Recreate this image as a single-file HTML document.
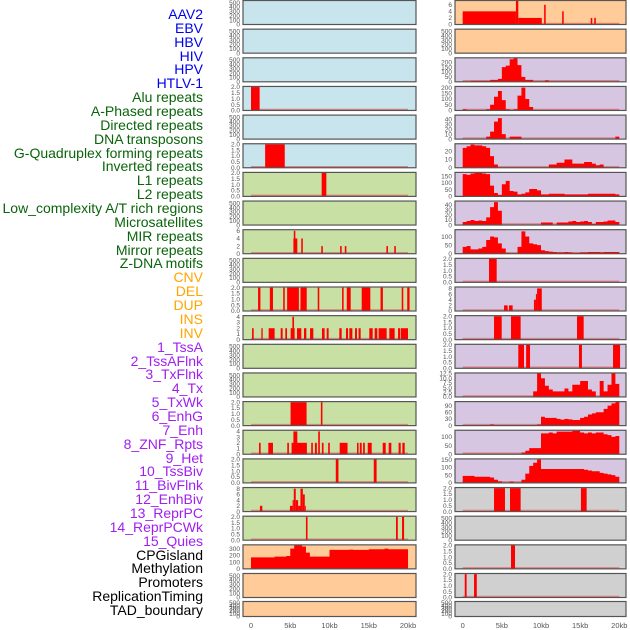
<!DOCTYPE html>
<html><head><meta charset="utf-8">
<style>
html,body{margin:0;padding:0;background:#fff;}
#wrap{position:relative;width:630px;height:630px;overflow:hidden;}
#labels{position:absolute;left:0;top:0;width:203px;}
.lab{position:absolute;right:0;font-family:"Liberation Sans",sans-serif;font-size:14px;line-height:14px;white-space:nowrap;}
svg{position:absolute;left:0;top:0;}
</style></head>
<body>
<div id="wrap">
<div id="labels"></div>
<svg id="chart" width="630" height="630"></svg>
</div>
<script>
const trackNames = ["AAV2","EBV","HBV","HIV","HPV","HTLV-1","Alu repeats","A-Phased repeats","Directed repeats","DNA transposons","G-Quadruplex forming repeats","Inverted repeats","L1 repeats","L2 repeats","Low_complexity A/T rich regions","Microsatellites","MIR repeats","Mirror repeats","Z-DNA motifs","CNV","DEL","DUP","INS","INV","1_TssA","2_TssAFlnk","3_TxFlnk","4_Tx","5_TxWk","6_EnhG","7_Enh","8_ZNF_Rpts","9_Het","10_TssBiv","11_BivFlnk","12_EnhBiv","13_ReprPC","14_ReprPCWk","15_Quies","CPGisland","Methylation","Promoters","ReplicationTiming","TAD_boundary"];
const trackGroups = ["v","v","v","v","v","v","r","r","r","r","r","r","r","r","r","r","r","r","r","c","c","c","c","c","h","h","h","h","h","h","h","h","h","h","h","h","h","h","h","o","o","o","o","o"];
const xTickValues = [0,5,10,15,20];
const xTickLabels = ["0","5kb","10kb","15kb","20kb"];

// bar tracks: [startKb, endKb, height]
const barsL3 = [[0,1.1,2]];
const barsL5 = [[1.8,4.3,2]];
const barsL6 = [[9.0,9.6,2]];
const barsL8 = [[5.4,5.9,4],[5.45,5.65,6],[6.4,6.6,4],[8.95,9.15,2],[11.35,11.55,2],[11.95,12.15,2],[17.25,17.45,2],[18.25,18.45,2]];
const barsL10 = [[0.9,1.2,2],[2.4,2.8,2],[4.1,4.3,2],[4.6,6.1,2],[6.3,7.1,2],[8.5,8.7,2],[11.6,11.8,2],[12.2,12.7,2],[14.1,15.2,2],[16.5,16.8,2],[19.2,19.4,2],[19.9,20.2,2]];
const barsL11 = [[0.13,0.34,2],[1.32,1.49,2],[2.25,3.01,2],[3.78,4.03,2],[4.37,4.59,2],[5.05,5.56,2],[5.27,5.48,4],[5.86,6.41,2],[6.75,7.05,2],[7.52,7.94,2],[9.04,9.38,2],[9.64,9.89,2],[11.25,11.55,2],[12.1,12.36,2],[12.53,12.91,2],[13.25,13.5,2],[13.7,13.97,2],[15.07,15.5,2],[15.75,16.09,2],[16.26,17.28,2],[17.62,18.3,2],[18.73,18.98,2],[19.07,20.0,2]];
const barsL14 = [[5.04,7.08,2],[8.9,9.1,2]];
const barsL15 = [[1.02,1.23,2],[2.2,2.8,2],[4.62,4.83,2],[5.17,7.12,2],[5.4,5.9,4],[8.56,8.77,4],[7.67,7.88,2],[8.14,8.39,2],[9.03,9.24,2],[9.83,10.04,2],[11.3,12.3,2],[13.5,13.7,2],[13.86,14.1,2],[14.28,14.5,2],[14.87,15.38,2],[16.78,17.16,2],[17.54,17.88,2],[18.8,19.07,2],[19.28,19.58,2]];
const barsL16 = [[10.8,11.14,2],[15.64,16.0,2]];
const barsL17 = [[1.14,1.44,2],[4.96,5.3,2],[5.3,5.45,4],[5.45,5.7,8],[5.7,6.0,4],[6.0,6.3,2],[6.3,6.6,8],[6.6,6.85,6],[6.85,6.95,2]];
const barsL18 = [[7.0,7.2,2],[18.47,18.7,2],[19.24,19.5,2]];
const barsR0 = [[0,6.8,4],[6.8,7.1,8],[7.1,10.1,2],[10.4,10.6,6],[12.7,12.9,4],[16.35,16.55,2],[16.8,17.0,2]];
const barsR9 = [[3.36,4.34,2]];
const barsR10 = [[5.28,5.74,2],[5.91,6.38,2],[9.1,9.35,4],[9.35,9.5,6],[9.5,10.1,8]];
const barsR11 = [[4.0,4.98,2],[6.17,7.4,2],[14.6,15.45,2]];
const barsR12 = [[7.1,7.83,2],[8.1,8.6,2],[14.85,15.23,2],[19.2,20.1,2]];
const barsR17 = [[4.0,5.4,2],[6.04,7.4,2],[15.1,15.83,2]];
const barsR19 = [[6.17,6.68,2]];
const barsR20 = [[0.26,0.5,2],[1.45,1.8,2]];

// profile tracks: 40 bins of 0.5kb
const profL19 = [170,170,170,170,170,170,180,180,180,190,300,350,350,330,240,180,180,180,180,180,280,280,280,280,280,285,280,280,280,280,290,290,290,290,300,290,290,290,290,290];
const profR2 = [0,0,10,10,10,10,10,20,20,30,150,165,230,240,170,50,20,20,0,0,0,15,0,0,0,0,0,0,0,0,0,0,0,0,0,0,0,0,0,0];
const profR3 = [10,0,0,0,0,0,10,50,120,170,90,10,0,10,130,200,100,30,0,0,0,0,0,0,0,0,0,0,0,0,0,0,0,0,0,0,0,0,0,0];
const profR4 = [0,0,0,0,0,0,5,15,35,42,10,0,5,5,5,0,0,0,0,0,0,0,0,0,0,0,0,0,0,0,0,0,0,0,0,0,0,0,0,5];
const profR5 = [24,26,28,27,27,26,24,14,4,0,0,0,0,0,0,0,0,0,0,0,0,0,4,4,6,6,10,10,5,5,5,7,7,5,3,4,0,0,0,0];
const profR6 = [165,160,170,175,175,170,165,80,25,10,90,115,40,35,15,20,30,55,55,45,15,15,20,20,20,20,15,15,15,15,15,15,20,20,20,20,20,20,20,15];
const profR7 = [6,8,10,8,9,8,15,35,45,28,0,0,0,0,0,0,0,0,0,0,5,5,5,0,5,5,5,7,8,6,7,8,6,2,6,6,7,9,9,6];
const profR8 = [40,45,25,25,30,40,80,100,95,60,30,5,0,0,40,130,100,60,55,50,20,15,12,10,8,8,10,8,5,5,8,8,10,10,10,8,10,10,10,10];
const profR13 = [0,0,0,0,0,0,0,0,0,0,0,0,0,0,0,0,0,0,3,12.5,10,6,4,3,3,3,4.5,3,6.5,6.5,8.5,8.5,4,3,0,8.5,3,6.5,12.5,7];
const profR14 = [0,0,0,0,0,0,0,5,0,0,0,0,0,0,0,0,0,0,0,5,40,35,35,35,30,27,30,28,25,25,35,40,50,55,60,60,75,90,100,108];
const profR15 = [0,0,0,0,0,0,0,0,0,0,0,0,0,0,0,10,20,35,35,35,120,120,125,120,130,130,130,130,135,135,125,120,125,120,125,125,115,110,100,105];
const profR16 = [45,45,45,40,40,40,40,35,20,10,0,0,8,0,0,20,60,110,130,150,90,90,90,90,90,90,90,90,90,90,90,85,80,75,75,65,60,55,50,40];

const T500 = [0,100,200,300,400,500];
const T2 = [0,0.5,1,1.5,2];
const panels = [
 {c:0,r:0,bg:"b",ymax:550,ticks:T500},{c:0,r:1,bg:"b",ymax:550,ticks:T500},{c:0,r:2,bg:"b",ymax:550,ticks:T500},
 {c:0,r:3,bg:"b",ymax:2.05,ticks:T2,bars:barsL3},{c:0,r:4,bg:"b",ymax:550,ticks:T500},
 {c:0,r:5,bg:"b",ymax:2.05,ticks:T2,bars:barsL5},{c:0,r:6,bg:"g",ymax:2.05,ticks:T2,bars:barsL6},
 {c:0,r:7,bg:"g",ymax:550,ticks:T500},{c:0,r:8,bg:"g",ymax:6.3,ticks:[0,2,4,6],bars:barsL8},
 {c:0,r:9,bg:"g",ymax:550,ticks:T500},{c:0,r:10,bg:"g",ymax:2.05,ticks:T2,bars:barsL10},
 {c:0,r:11,bg:"g",ymax:4.2,ticks:[0,1,2,3,4],bars:barsL11},{c:0,r:12,bg:"g",ymax:550,ticks:T500},
 {c:0,r:13,bg:"g",ymax:550,ticks:T500},{c:0,r:14,bg:"g",ymax:2.05,ticks:T2,bars:barsL14},
 {c:0,r:15,bg:"g",ymax:4.2,ticks:[0,1,2,3,4],bars:barsL15},{c:0,r:16,bg:"g",ymax:2.05,ticks:T2,bars:barsL16},
 {c:0,r:17,bg:"g",ymax:8.4,ticks:[0,2,4,6,8],bars:barsL17},{c:0,r:18,bg:"g",ymax:2.05,ticks:T2,bars:barsL18},
 {c:0,r:19,bg:"o",ymax:355,ticks:[0,100,200,300],prof:profL19},{c:0,r:20,bg:"o",ymax:550,ticks:T500},
 {c:0,r:21,bg:"o",ymax:550,ticks:T500},
 {c:1,r:0,bg:"o",ymax:7.3,ticks:[0,2,4,6],bars:barsR0},{c:1,r:1,bg:"o",ymax:550,ticks:T500},
 {c:1,r:2,bg:"p",ymax:245,ticks:[0,50,100,150,200],prof:profR2},{c:1,r:3,bg:"p",ymax:210,ticks:[0,50,100,150,200],prof:profR3},
 {c:1,r:4,bg:"p",ymax:48,ticks:[0,10,20,30,40],prof:profR4},{c:1,r:5,bg:"p",ymax:29,ticks:[0,10,20],prof:profR5},
 {c:1,r:6,bg:"p",ymax:178,ticks:[0,50,100,150],prof:profR6},{c:1,r:7,bg:"p",ymax:47,ticks:[0,10,20,30,40],prof:profR7},
 {c:1,r:8,bg:"p",ymax:140,ticks:[0,50,100],prof:profR8},{c:1,r:9,bg:"p",ymax:2.05,ticks:T2,bars:barsR9},
 {c:1,r:10,bg:"p",ymax:8.5,ticks:[0,2,4,6,8],bars:barsR10},{c:1,r:11,bg:"p",ymax:2.05,ticks:T2,bars:barsR11},
 {c:1,r:12,bg:"p",ymax:2.05,ticks:T2,bars:barsR12},{c:1,r:13,bg:"p",ymax:12.8,ticks:[0,2.5,5,7.5,10,12.5],fmt:1,prof:profR13},
 {c:1,r:14,bg:"p",ymax:108,ticks:[0,30,60,90],prof:profR14},{c:1,r:15,bg:"p",ymax:138,ticks:[0,50,100],prof:profR15},
 {c:1,r:16,bg:"p",ymax:155,ticks:[0,50,100,150],prof:profR16},{c:1,r:17,bg:"y",ymax:2.05,ticks:T2,bars:barsR17},
 {c:1,r:18,bg:"y",ymax:550,ticks:T500},{c:1,r:19,bg:"y",ymax:2.05,ticks:T2,bars:barsR19},
 {c:1,r:20,bg:"y",ymax:2.05,ticks:T2,bars:barsR20},{c:1,r:21,bg:"y",ymax:550,ticks:T500}
];

const colorMap = {v:"#0000ee",r:"#0a640a",c:"#ffa500",h:"#a020f0",o:"#000"};
const bgMap = {b:"#c8e4ec",g:"#c8e0a3",o:"#ffcc99",p:"#d6c6e2",y:"#d0d0d0"};
const NS = "http://www.w3.org/2000/svg";
const svg = document.getElementById("chart");
const labDiv = document.getElementById("labels");

trackNames.forEach((n,i)=>{
  const d = document.createElement("div");
  d.className = "lab";
  d.style.top = (15 + 13.86*i - 8) + "px";
  d.style.color = colorMap[trackGroups[i]];
  d.textContent = n;
  
  
  labDiv.appendChild(d);
});

function mk(tag, attrs){
  const e = document.createElementNS(NS, tag);
  for (const k in attrs) e.setAttribute(k, attrs[k]);
  svg.appendChild(e);
  return e;
}
const colX = [{x0:243,x1:416,d0:251,d20:408,tx:240},{x0:455,x1:626,d0:462.7,d20:619.3,tx:452}];

panels.forEach((p,idx)=>{
  const C = colX[p.c];
  const top = p.r===21 ? 601.5 : 0.5 + 28.65*p.r;
  const h = p.r===21 ? 15 : 24;
  const bot = top + h;
  const xs = kb => C.d0 + (C.d20-C.d0)*kb/20;
  const ys = v => bot - Math.min(v,p.ymax)/p.ymax*h;
  const bg = mk("rect",{x:C.x0,y:top,width:C.x1-C.x0,height:h,fill:bgMap[p.bg]});
  
  
  p.ticks.forEach(t=>{
    const tt = mk("text",{x:C.tx,y:ys(t)+2.2,"text-anchor":"end","font-family":"Liberation Sans, sans-serif","font-size":"6.5",fill:"#555"});
    tt.textContent = p.fmt||p.ticks===T2 ? t.toFixed(1) : String(t);
    
    
  });
  if (p.bars || p.prof){
    const bl = mk("line",{x1:xs(0),x2:xs(20),y1:bot-1,y2:bot-1,stroke:"#e06060","stroke-width":1.5,opacity:0.7});
    
    
  }
  if (p.bars){
    p.bars.forEach(b=>{
      const r = mk("rect",{x:xs(b[0]),y:ys(b[2]),width:Math.max(1,xs(b[1])-xs(b[0])),height:bot-ys(b[2]),fill:"#ff0000"});
      
      
    });
  }
  if (p.prof){
    let d = "M"+xs(0)+","+bot;
    p.prof.forEach((v,i)=>{ d += " L"+xs(i*0.5)+","+ys(v)+" L"+xs(i*0.5+0.5)+","+ys(v); });
    d += " L"+xs(20)+","+bot+" Z";
    const pa = mk("path",{d:d,fill:"#ff0000"});
    
    
  }
  const fr = mk("rect",{x:C.x0,y:top,width:C.x1-C.x0,height:h,fill:"none",stroke:"#555","stroke-width":1.2});
  
  
});

colX.forEach(C=>{
  xTickValues.forEach((v,i)=>{
    const t = mk("text",{x:C.d0+(C.d20-C.d0)*v/20,y:628,"text-anchor":"middle","font-family":"Liberation Sans, sans-serif","font-size":"7.5",fill:"#555"});
    t.textContent = xTickLabels[i];
    
    
  });
});
</script>
</body></html>
